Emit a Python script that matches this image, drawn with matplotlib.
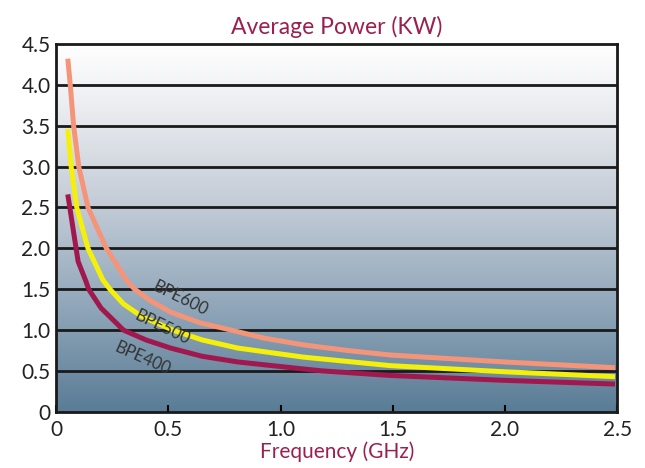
import numpy as np
import matplotlib
matplotlib.use("Agg")
import matplotlib.pyplot as plt
from matplotlib.colors import LinearSegmentedColormap

# values
f600 = [0.052, 0.063, 0.078, 0.101, 0.142, 0.224, 0.313, 0.35, 0.42, 0.51, 0.64,
        0.78, 0.93, 1.10, 1.3, 1.49, 2.0, 2.49]
p600 = [4.32, 4.0, 3.5, 3.0, 2.5, 2.0, 1.61, 1.5, 1.36, 1.22, 1.09,
        1.0, 0.9, 0.82, 0.75, 0.695, 0.61, 0.54]

f500 = [0.052, 0.067, 0.092, 0.142, 0.209, 0.24, 0.3, 0.38, 0.52, 0.65, 0.81,
        1.10, 1.49, 2.0, 2.49]
p500 = [3.46, 3.0, 2.5, 2.0, 1.61, 1.5, 1.32, 1.17, 1.0, 0.88, 0.78,
        0.67, 0.565, 0.49, 0.43]

f400 = [0.052, 0.089, 0.098, 0.131, 0.145, 0.2, 0.30, 0.4, 0.51, 0.65, 0.81,
        1.10, 1.19, 1.49, 2.0, 2.49]
p400 = [2.66, 2.0, 1.84, 1.61, 1.5, 1.27, 1.0, 0.88, 0.78, 0.68, 0.61,
        0.525, 0.5, 0.445, 0.385, 0.34]

xticks = [0, 0.5, 1.0, 1.5, 2.0, 2.5]
xlabels = ["0", "0.5", "1.0", "1.5", "2.0", "2.5"]
yticks = [0, 0.5, 1.0, 1.5, 2.0, 2.5, 3.0, 3.5, 4.0, 4.5]
ylabels = ["0", "0.5", "1.0", "1.5", "2.0", "2.5", "3.0", "3.5", "4.0", "4.5"]

plt.rcParams['font.family'] = ['Lato', 'DejaVu Sans']
maroon = '#9B2050'

fig = plt.figure(figsize=(6.45, 4.68), dpi=100)
ax = fig.add_axes([0.087, 0.12, 0.870, 0.786])

# background gradient, white at top to steel blue at bottom
bg = LinearSegmentedColormap.from_list('bg', [(0, '#5A7C96'), (0.3, '#93A9BB'),
                                              (0.6, '#C9D0DA'), (0.85, '#EEEFF2'),
                                              (1, '#FFFFFF')])
grad = np.linspace(0, 1, 256).reshape(-1, 1)
ax.imshow(grad, aspect='auto', cmap=bg, origin='lower',
          extent=[0, 2.5, 0, 4.5], zorder=0)

for y in yticks[1:-1]:
    ax.axhline(y, color='#1a1a1a', lw=2, zorder=1)

for f, p, c in [(f600, p600, '#F4957A'), (f500, p500, '#F5F00A'), (f400, p400, '#A0184E')]:
    ax.plot(f, p, color=c, lw=3.6, solid_capstyle='butt', solid_joinstyle='round', zorder=3)

ax.text(0.42, 1.18, "BPE600", rotation=-26, color='#333333', fontsize=12, zorder=4)
ax.text(0.34, 0.82, "BPE500", rotation=-26, color='#333333', fontsize=12, zorder=4)
ax.text(0.25, 0.45, "BPE400", rotation=-24, color='#333333', fontsize=12, zorder=4)

ax.set_xlim(0, 2.5)
ax.set_ylim(0, 4.5)
ax.set_xticks(xticks)
ax.set_xticklabels(xlabels, fontsize=15, color='#222222')
ax.set_yticks(yticks)
ax.set_yticklabels(ylabels, fontsize=15, color='#222222')
ax.tick_params(axis='x', direction='in', length=5, width=1.5, pad=6)
ax.tick_params(axis='y', length=0, pad=4)
for s in ax.spines.values():
    s.set_linewidth(2)
    s.set_color('#1a1a1a')

ax.set_title("Average Power (KW)", color=maroon, fontsize=16.5, pad=7)
ax.set_xlabel("Frequency (GHz)", color=maroon, fontsize=15, labelpad=1)

fig.savefig('out.png', dpi=100)
